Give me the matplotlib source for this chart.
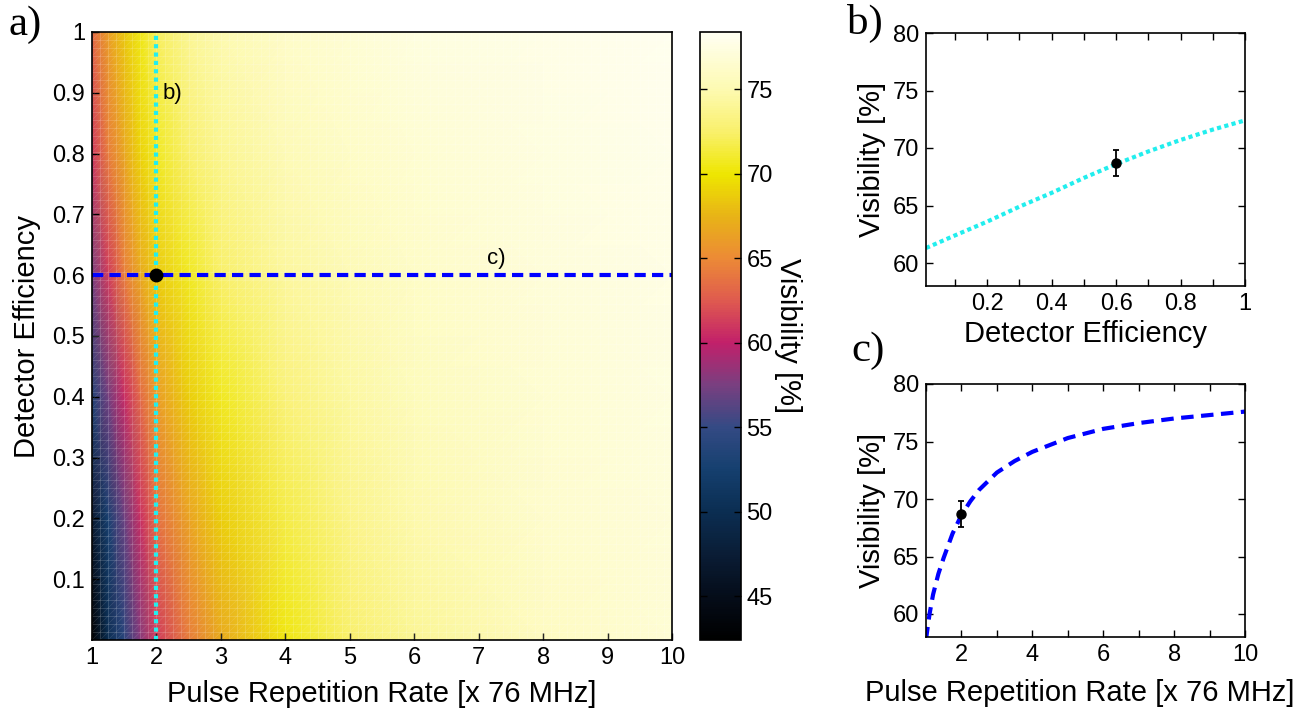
import numpy as np
import matplotlib
matplotlib.use('Agg')
import matplotlib.pyplot as plt
from matplotlib.colors import LinearSegmentedColormap, Normalize
from matplotlib.collections import LineCollection

plt.rcParams['font.family'] = ['Liberation Sans', 'DejaVu Sans']

# visibility map on a coarse grid (rows: detector efficiency, cols: repetition rate)
rate_grid = [1, 1.25, 1.5, 1.75, 2, 2.5, 3, 4, 5, 6, 8, 10]
eff_grid = [0, 0.2, 0.4, 0.6, 0.8, 1.0]
vis_grid = [
    [42.5, 50.0, 54.2, 58.0, 61.2, 64.3, 67.0, 70.3, 72.5, 74.0, 75.8, 76.8],
    [47.0, 52.8, 57.0, 60.6, 63.6, 66.5, 68.8, 71.6, 73.5, 74.8, 76.3, 77.1],
    [53.5, 57.3, 60.5, 63.3, 66.1, 68.8, 70.7, 73.0, 74.4, 75.5, 76.7, 77.4],
    [57.5, 61.2, 64.3, 66.8, 68.6, 70.8, 72.4, 74.2, 75.3, 76.1, 77.0, 77.6],
    [61.0, 64.2, 66.7, 69.0, 70.7, 72.5, 73.8, 75.3, 76.1, 76.7, 77.4, 77.9],
    [63.3, 66.2, 68.5, 70.4, 72.2, 74.0, 75.0, 76.2, 76.8, 77.3, 77.8, 78.2],
]

# cut b): rate fixed at 2 x 76 MHz
eff_b = [0.01, 0.1, 0.2, 0.3, 0.4, 0.5, 0.6, 0.7, 0.8, 0.9, 1.0]
vis_b = [61.3, 62.4, 63.6, 64.9, 66.1, 67.4, 68.6, 69.7, 70.7, 71.6, 72.4]

# cut c): efficiency fixed at 0.6
rate_c = [1.0, 1.1, 1.2, 1.35, 1.5, 1.75, 2.0, 2.25, 2.5, 3.0, 3.5, 4, 5, 6, 7, 8, 9, 10]
vis_c = [57.8, 60.0, 61.7, 63.5, 64.9, 67.0, 68.6, 69.8, 70.8, 72.3, 73.3, 74.1,
         75.3, 76.1, 76.6, 77.0, 77.3, 77.6]

# measured point
meas_rate = 2.0
meas_eff = 0.6
meas_vis = 68.7
meas_err = 1.1

vmin, vmax = 42.4, 78.4
cmap_stops = [
    (42.4, '#000000'), (45.0, '#050d1a'), (47.5, '#0a1d36'), (50.0, '#0b2e52'),
    (52.5, '#15406f'), (55.0, '#344a84'), (57.5, '#7a3f80'), (60.0, '#c2206a'),
    (62.5, '#df5a4f'), (65.0, '#ec8a36'), (67.5, '#e8b317'), (70.0, '#eee600'),
    (72.5, '#f9f06a'), (75.0, '#fdfab0'), (78.4, '#fffff2'),
]
cmap = LinearSegmentedColormap.from_list(
    'vis', [((v - vmin) / (vmax - vmin), c) for v, c in cmap_stops])
norm = Normalize(vmin, vmax)

W, H = 1304, 708
fig = plt.figure(figsize=(W / 100, H / 100), dpi=100)

TICK_FS = 17
LABEL_FS = 21


def box(l, t, r, b):
    return [l / W, 1 - b / H, (r - l) / W, (b - t) / H]


def style_axes(ax, all_sides=True):
    ax.tick_params(direction='in', length=5, width=1, labelsize=TICK_FS, pad=5,
                   top=all_sides, right=all_sides)
    for s in ax.spines.values():
        s.set_linewidth(1.2)


# a) visibility map
ax = fig.add_axes(box(92, 32, 672, 640))
ax.pcolormesh(rate_grid, eff_grid, np.array(vis_grid), shading='gouraud',
              cmap=cmap, norm=norm)

# faint triangle mesh on top of the surface
gx = np.linspace(1, 10, 73)
gy = np.linspace(0, 1, 77)
segs = [[(x, 0), (x, 1)] for x in gx] + [[(1, y), (10, y)] for y in gy]
ax.add_collection(LineCollection(segs, colors='white', linewidths=0.5, alpha=0.22))
X0, Y0 = np.meshgrid(gx[:-1], gy[:-1])
X1, Y1 = np.meshgrid(gx[1:], gy[1:])
diag = np.stack([np.stack([X0.ravel(), Y0.ravel()], 1),
                 np.stack([X1.ravel(), Y1.ravel()], 1)], 1)
ax.add_collection(LineCollection(diag, colors='white', linewidths=0.4, alpha=0.15))

ax.axvline(meas_rate, color='#22eeee', lw=3, linestyle=(0, (1, 1)))
ax.axhline(meas_eff, color='#0000ff', lw=3, linestyle=(0, (2.7, 1.5)))
ax.plot(meas_rate, meas_eff, 'o', color='black', ms=9)
ax.text(2.09, 0.899, 'b)', fontsize=16, va='center', ha='left')
ax.text(7.13, 0.628, 'c)', fontsize=16, va='center', ha='left')

ax.set_xlim(1, 10)
ax.set_ylim(0, 1)
ax.set_xticks(range(1, 11))
ax.set_yticks(np.arange(1, 11) / 10)
ax.set_yticklabels(['0.1', '0.2', '0.3', '0.4', '0.5', '0.6', '0.7', '0.8', '0.9', '1'])
style_axes(ax, all_sides=False)
ax.set_xlabel('Pulse Repetition Rate [x 76 MHz]', fontsize=LABEL_FS, labelpad=8)
ax.set_ylabel('Detector Efficiency', fontsize=LABEL_FS, labelpad=8)

cax = fig.add_axes(box(700, 32, 741, 640))
cb = fig.colorbar(plt.cm.ScalarMappable(norm=norm, cmap=cmap), cax=cax)
cb.set_ticks([45, 50, 55, 60, 65, 70, 75])
cax.tick_params(direction='in', length=5, width=1, labelsize=TICK_FS, pad=4,
                left=True, right=True)
cb.outline.set_linewidth(1.2)
cb.set_label('Visibility [%]', fontsize=LABEL_FS, rotation=270, labelpad=21)

# b) cut at fixed repetition rate
axb = fig.add_axes(box(926, 33, 1245, 286))
axb.plot(eff_b, vis_b, color='#22eeee', lw=3, linestyle=(0, (1, 0.8)))
axb.errorbar(meas_eff, meas_vis, yerr=meas_err, fmt='o', color='black',
             ms=6.5, capsize=2.5, elinewidth=1.3, capthick=1.3)
axb.set_xlim(0.01, 1)
axb.set_ylim(58, 80)
axb.set_xticks(np.arange(1, 11) / 10)
axb.set_xticklabels(['', '0.2', '', '0.4', '', '0.6', '', '0.8', '', '1'])
axb.set_yticks([60, 65, 70, 75, 80])
style_axes(axb)
axb.set_xlabel('Detector Efficiency', fontsize=LABEL_FS, labelpad=4)
axb.set_ylabel('Visibility [%]', fontsize=LABEL_FS, labelpad=5)

# c) cut at fixed detector efficiency
axc = fig.add_axes(box(926, 384, 1245, 637))
axc.plot(rate_c, vis_c, color='#0000ff', lw=3, linestyle=(0, (3, 1.8)))
axc.errorbar(meas_rate, meas_vis, yerr=meas_err, fmt='o', color='black',
             ms=6.5, capsize=2.5, elinewidth=1.3, capthick=1.3)
axc.set_xlim(1, 10)
axc.set_ylim(58, 80)
axc.set_xticks(range(1, 11))
axc.set_xticklabels(['', '2', '', '4', '', '6', '', '8', '', '10'])
axc.set_yticks([60, 65, 70, 75, 80])
style_axes(axc)
axc.set_xlabel('Pulse Repetition Rate [x 76 MHz]', fontsize=LABEL_FS)
axc.xaxis.set_label_coords(0.483, -0.165)
axc.set_ylabel('Visibility [%]', fontsize=LABEL_FS, labelpad=5)

for x, y, s in [(9, 6, 'a)'), (847, 4, 'b)'), (851, 332, 'c)')]:
    fig.text(x / W, 1 - y / H, s, fontsize=31, va='top', ha='left',
             family='Liberation Serif')

fig.savefig('out.png', dpi=100)
